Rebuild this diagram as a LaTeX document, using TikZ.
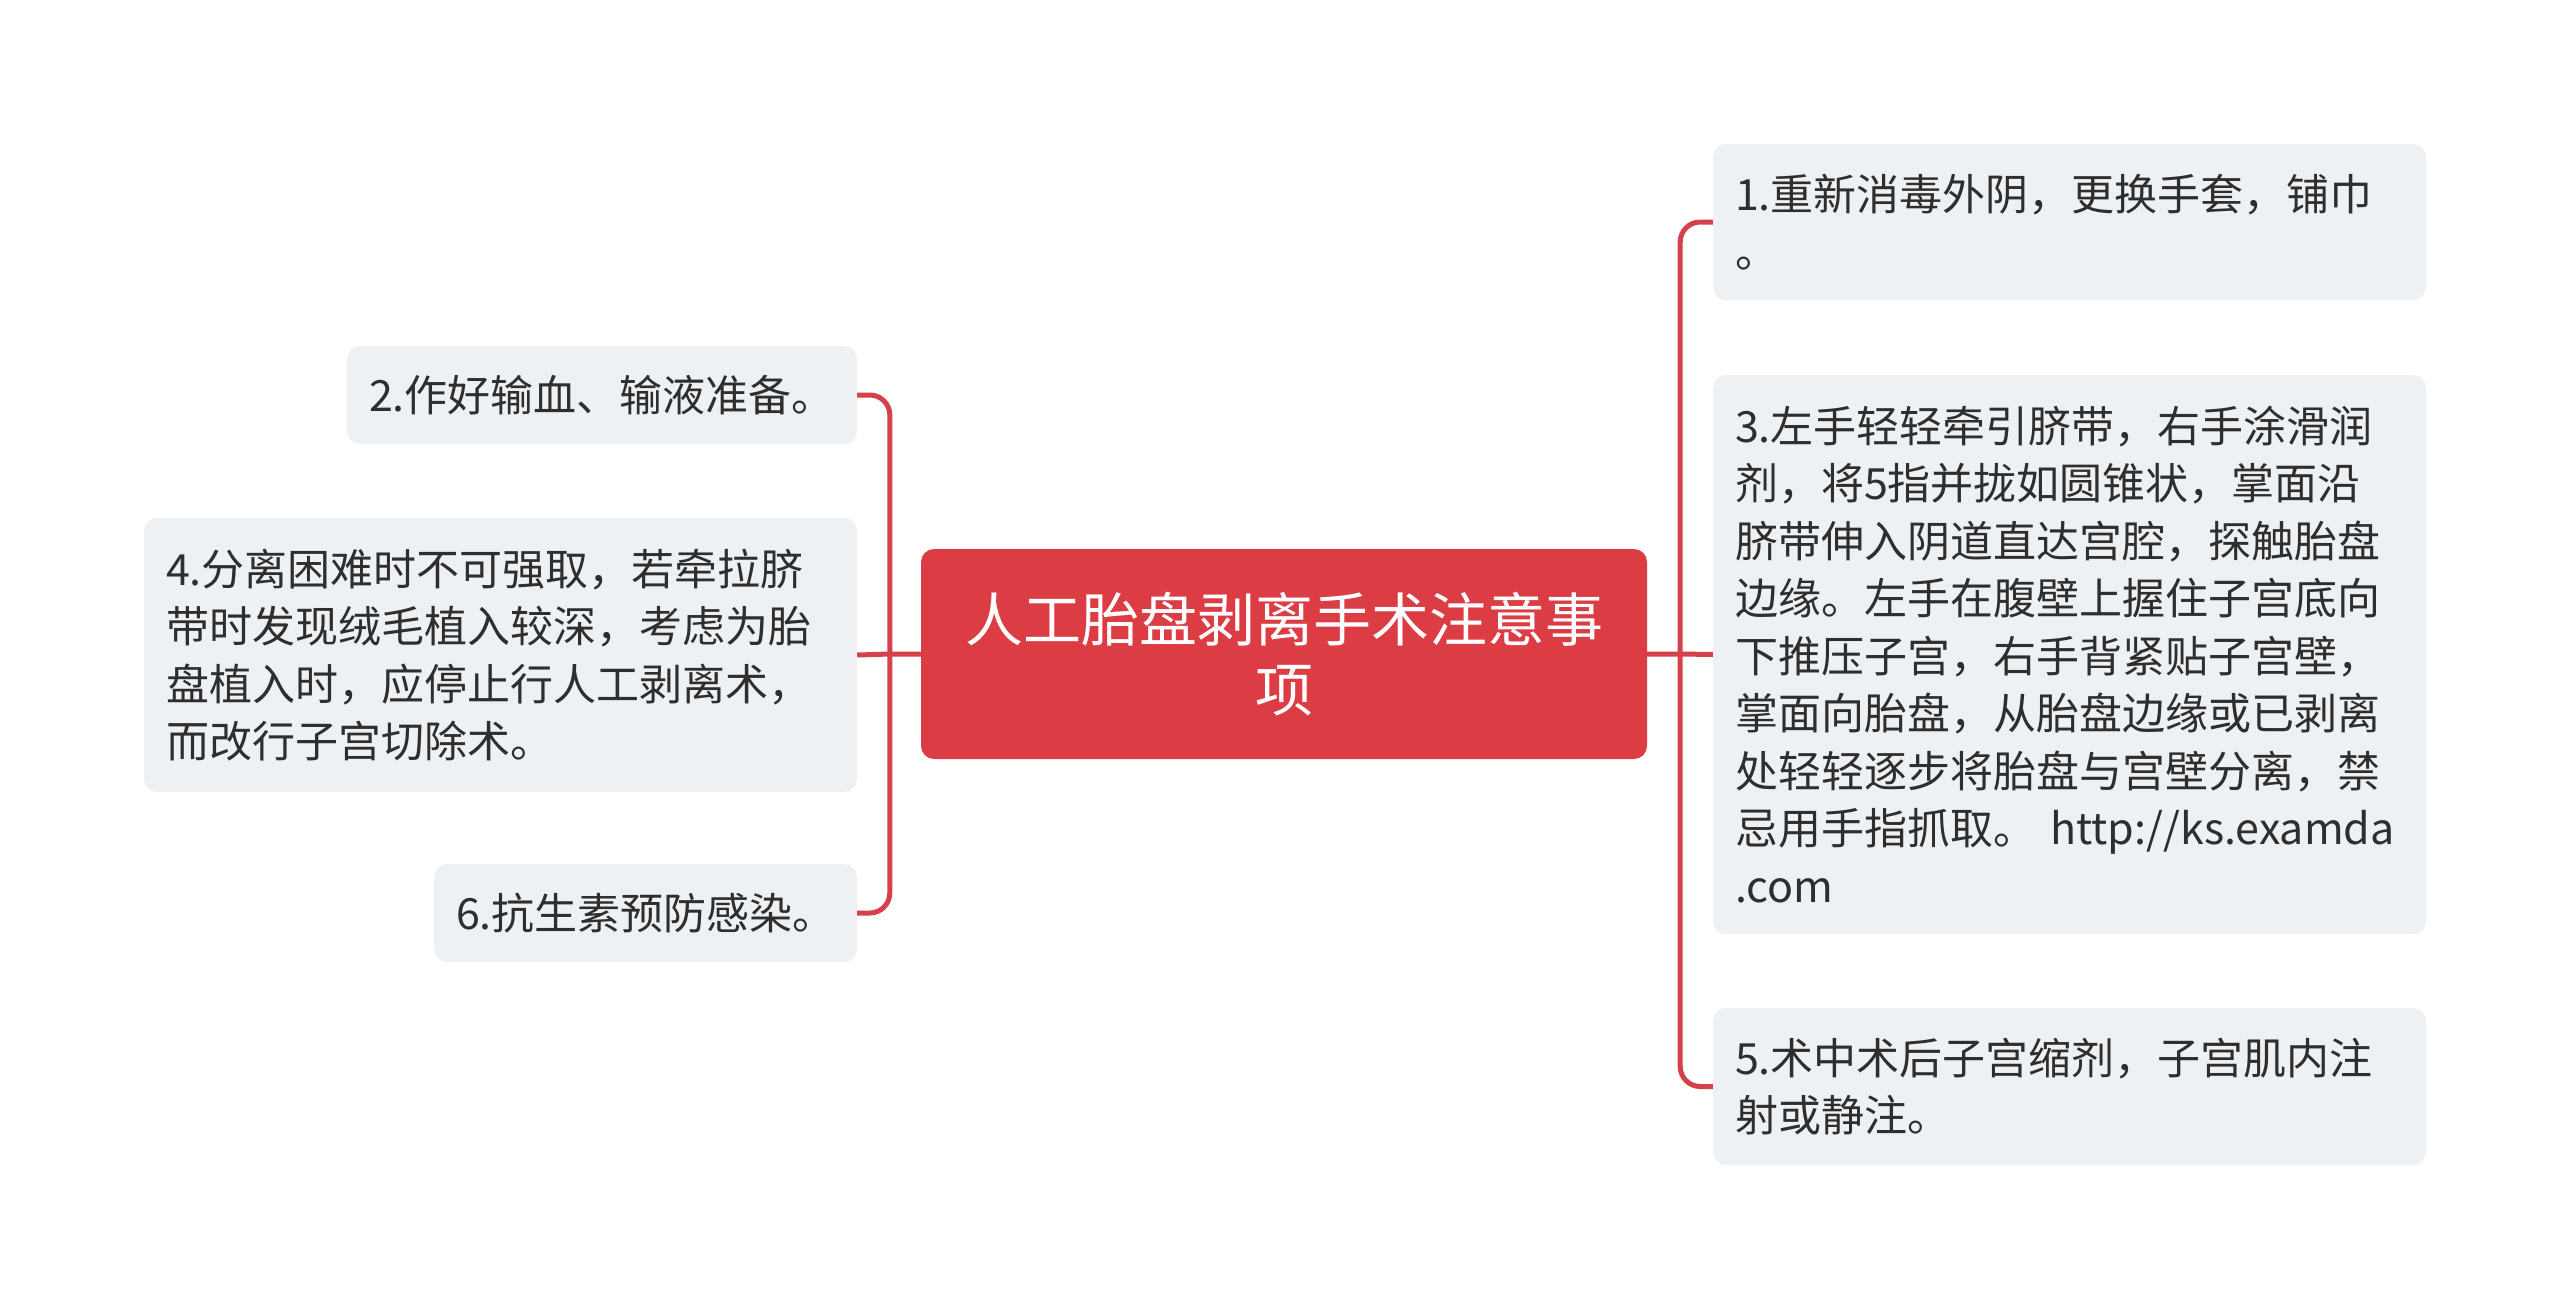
\documentclass[tikz,border=0pt]{standalone}
\usepackage{fontspec}
\setmainfont{Noto Sans CJK SC}
\definecolor{mainred}{HTML}{DC3D45}
\definecolor{linered}{HTML}{D5414A}
\definecolor{boxgray}{HTML}{EEF1F4}
\definecolor{txtgray}{HTML}{2E2E2E}
\begin{document}
\begin{tikzpicture}[x=1pt,y=-1pt,
  topic/.style={fill=mainred, rounded corners=13pt, text=white, font=\fontsize{58}{70}\selectfont, align=center, inner sep=0pt},
  leaf/.style={fill=boxgray, rounded corners=13pt, text=txtgray, font=\fontsize{43}{57.5}\selectfont, align=left, inner xsep=22pt, inner ysep=0pt},
  conn/.style={draw=linered, line width=5pt}]
\useasboundingbox (0,0) rectangle (2560,1304);
% central topic
\node[topic, minimum width=726pt, minimum height=210pt, text width=700pt] (c) at (1284,654) {人工胎盘剥离手术注意事\\项};
% right leaves
\node[leaf, text width=669pt, minimum height=156pt] (n1) at (2069.5,222) {1.重新消毒外阴，更换手套，铺巾\\。};
\node[leaf, text width=669pt, minimum height=559pt] (n3) at (2069.5,654.5) {3.左手轻轻牵引脐带，右手涂滑润\\剂，将5指并拢如圆锥状，掌面沿\\脐带伸入阴道直达宫腔，探触胎盘\\边缘。左手在腹壁上握住子宫底向\\下推压子宫，右手背紧贴子宫壁，\\掌面向胎盘，从胎盘边缘或已剥离\\处轻轻逐步将胎盘与宫壁分离，禁\\忌用手指抓取。 http://ks.examda\\.com};
\node[leaf, text width=669pt, minimum height=157pt] (n5) at (2069.5,1086.5) {5.术中术后子宫缩剂，子宫肌内注\\射或静注。};
% left leaves
\node[leaf, text width=466pt, minimum height=98pt] (n2) at (602,395) {2.作好输血、输液准备。};
\node[leaf, text width=669pt, minimum height=274pt] (n4) at (500.5,655) {4.分离困难时不可强取，若牵拉脐\\带时发现绒毛植入较深，考虑为胎\\盘植入时，应停止行人工剥离术，\\而改行子宫切除术。};
\node[leaf, text width=379pt, minimum height=98pt] (n6) at (645.5,913) {6.抗生素预防感染。};
% connectors right
\draw[conn] (c.east) -- ++(33,0) coordinate (rj) -- (n3.west);
\draw[conn, rounded corners=20pt] (rj) |- (n1.west);
\draw[conn, rounded corners=20pt] (rj) |- (n5.west);
% connectors left
\draw[conn] (c.west) -- ++(-31,0) coordinate (lj) -- (n4.east);
\draw[conn, rounded corners=20pt] (lj) |- (n2.east);
\draw[conn, rounded corners=20pt] (lj) |- (n6.east);
\end{tikzpicture}
\end{document}
